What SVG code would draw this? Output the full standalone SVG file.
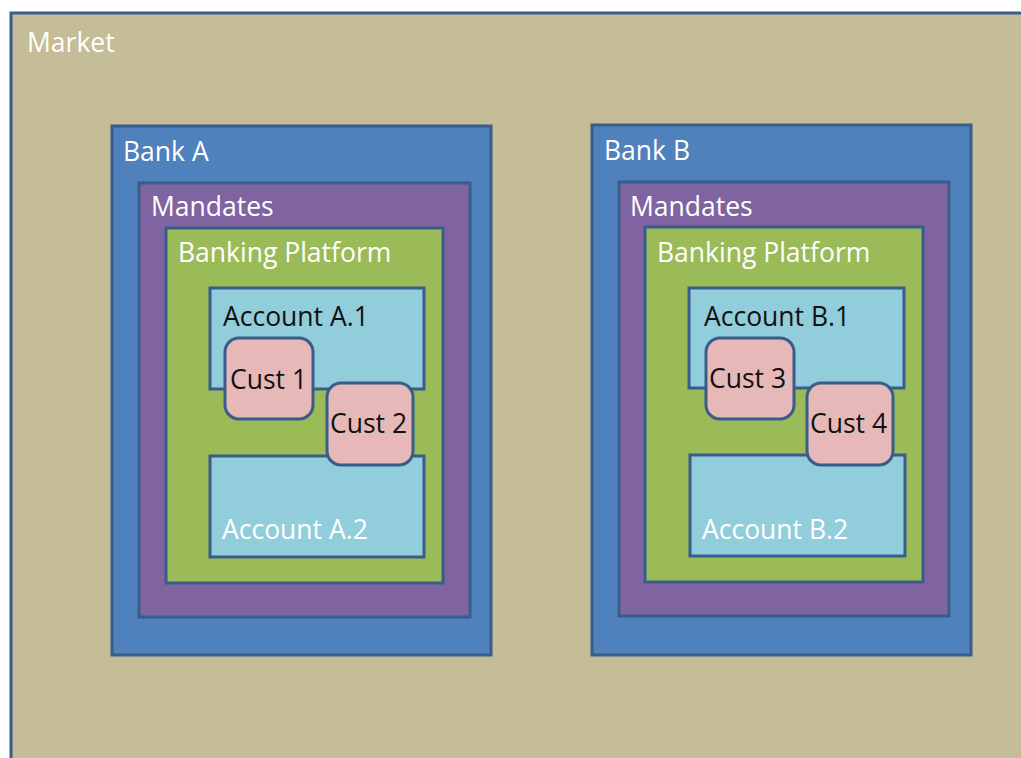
<svg xmlns="http://www.w3.org/2000/svg" width="1021" height="758" viewBox="0 0 1021 758">
<style>
.box{stroke:#385d8a;stroke-width:3}
.market{fill:#c4bd97}
.bank{fill:#4f81bd}
.mand{fill:#8064a2}
.plat{fill:#9bbb59}
.acct{fill:#92cddc}
.cust{fill:#e6b9b8}
text{font-family:"Open Sans","Noto Sans","Liberation Sans",sans-serif;font-size:26.5px}
.w{fill:#ffffff}
.k{fill:#111111}
</style>
<rect x="0" y="0" width="1021" height="758" fill="#ffffff"/>
<g id="market">
<rect class="box market" x="11" y="13" width="1020" height="760"/>
<text class="w" x="27" y="52">Market</text>
</g>
<g id="bankA">
<rect class="box bank" x="112" y="126" width="379" height="529"/>
<text class="w" x="123" y="161">Bank A</text>
</g>
<g id="mandatesA">
<rect class="box mand" x="139" y="183" width="331" height="434"/>
<text class="w" x="151" y="216">Mandates</text>
</g>
<g id="platformA">
<rect class="box plat" x="166" y="228" width="277" height="355"/>
<text class="w" x="178" y="262">Banking Platform</text>
</g>
<g id="accountA1">
<rect class="box acct" x="210" y="288" width="214" height="101"/>
<text class="k" x="223" y="326">Account A.1</text>
</g>
<g id="accountA2">
<rect class="box acct" x="210" y="456" width="214" height="101"/>
<text class="w" x="222" y="539">Account A.2</text>
</g>
<g id="cust1">
<rect class="box cust" x="225" y="338" width="88" height="81" rx="14"/>
<text class="k" x="230" y="389">Cust 1</text>
</g>
<g id="cust2">
<rect class="box cust" x="327" y="383" width="86" height="82" rx="14"/>
<text class="k" x="330" y="433">Cust 2</text>
</g>
<g id="bankB">
<rect class="box bank" x="592" y="125" width="379" height="530"/>
<text class="w" x="604" y="160">Bank B</text>
</g>
<g id="mandatesB">
<rect class="box mand" x="619" y="182" width="330" height="434"/>
<text class="w" x="630" y="216">Mandates</text>
</g>
<g id="platformB">
<rect class="box plat" x="645" y="227" width="278" height="355"/>
<text class="w" x="657" y="262">Banking Platform</text>
</g>
<g id="accountB1">
<rect class="box acct" x="689" y="288" width="215" height="100"/>
<text class="k" x="704" y="326">Account B.1</text>
</g>
<g id="accountB2">
<rect class="box acct" x="690" y="455" width="215" height="101"/>
<text class="w" x="702" y="539">Account B.2</text>
</g>
<g id="cust3">
<rect class="box cust" x="706" y="338" width="88" height="81" rx="14"/>
<text class="k" x="709" y="388">Cust 3</text>
</g>
<g id="cust4">
<rect class="box cust" x="807" y="383" width="86" height="82" rx="14"/>
<text class="k" x="810" y="433">Cust 4</text>
</g>
<g id="connectors"/>
</svg>
